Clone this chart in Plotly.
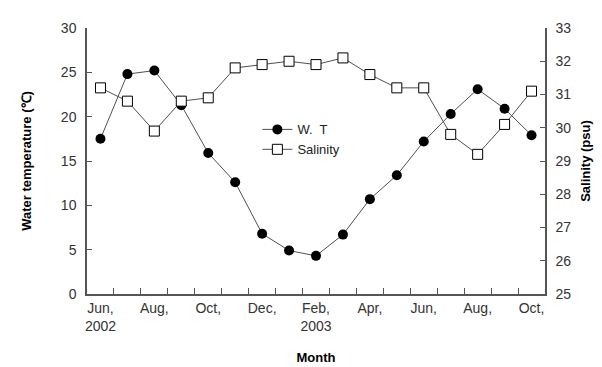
import plotly.graph_objects as go

months = ["Jun", "Jul", "Aug", "Sep", "Oct", "Nov", "Dec", "Jan", "Feb", "Mar",
          "Apr", "May", "Jun", "Jul", "Aug", "Sep", "Oct"]
years = [2002]*7 + [2003]*10
water_temp = [17.5, 24.8, 25.2, 21.3, 15.9, 12.6, 6.8, 4.9, 4.3, 6.7,
              10.7, 13.4, 17.2, 20.3, 23.1, 20.9, 17.9]
salinity = [31.2, 30.8, 29.9, 30.8, 30.9, 31.8, 31.9, 32.0, 31.9, 32.1,
            31.6, 31.2, 31.2, 29.8, 29.2, 30.1, 31.1]
tick_labels = ["Jun,<br>2002", "Aug,", "Oct,", "Dec,", "Feb,<br>2003",
               "Apr,", "Jun,", "Aug,", "Oct,"]

idx = list(range(len(months)))
font_fam = "Liberation Sans, Arial, sans-serif"
axis_col = "#555555"

fig = go.Figure()
fig.add_trace(go.Scatter(
    x=idx, y=water_temp, name="W.  T", mode="lines+markers",
    line=dict(color="#505050", width=1),
    marker=dict(symbol="circle", size=10, color="black"),
))
fig.add_trace(go.Scatter(
    x=idx, y=salinity, name="Salinity", mode="lines+markers", yaxis="y2",
    line=dict(color="#505050", width=1),
    marker=dict(symbol="square", size=10, color="white",
                line=dict(color="black", width=1)),
))

fig.update_layout(
    width=602, height=367,
    margin=dict(l=79, r=65, t=15, b=80),
    paper_bgcolor="white", plot_bgcolor="white",
    font=dict(family=font_fam, size=14, color="#333333"),
    showlegend=True,
    legend=dict(x=0.372, y=0.675, xanchor="left", yanchor="top",
                bgcolor="rgba(0,0,0,0)", font=dict(size=13, color="#222"),
                itemwidth=30),
    xaxis=dict(
        range=[-0.5, len(idx) - 0.5],
        tickmode="array", tickvals=idx[::2], ticktext=tick_labels,
        ticks="", showgrid=False, zeroline=False,
        showline=True, linecolor=axis_col, linewidth=1.5,
        minor=dict(tickmode="array",
                   tickvals=[i + 0.5 for i in idx[:-1]],
                   ticks="inside", ticklen=6, tickcolor=axis_col, tickwidth=1),
        title=dict(text="<b>Month</b>", font=dict(size=13, color="black"), standoff=20),
        fixedrange=True,
    ),
    yaxis=dict(
        range=[0, 30], dtick=5, ticks="inside", ticklen=5, tickcolor=axis_col,
        ticklabelstandoff=6,
        showgrid=False, zeroline=False, showline=True, linecolor=axis_col, linewidth=1.5,
        title=dict(text="<b>Water temperature (℃)</b>", font=dict(size=13, color="black"),
                   standoff=26),
    ),
    yaxis2=dict(
        range=[25, 33], dtick=1, overlaying="y", side="right",
        ticks="inside", ticklen=5, tickcolor=axis_col,
        ticklabelstandoff=6,
        showgrid=False, zeroline=False, showline=True, linecolor=axis_col, linewidth=1.5,
        title=dict(text="<b>Salinity (psu)</b>", font=dict(size=13, color="black"),
                   standoff=11),
    ),
)

fig.write_html("out.html")
